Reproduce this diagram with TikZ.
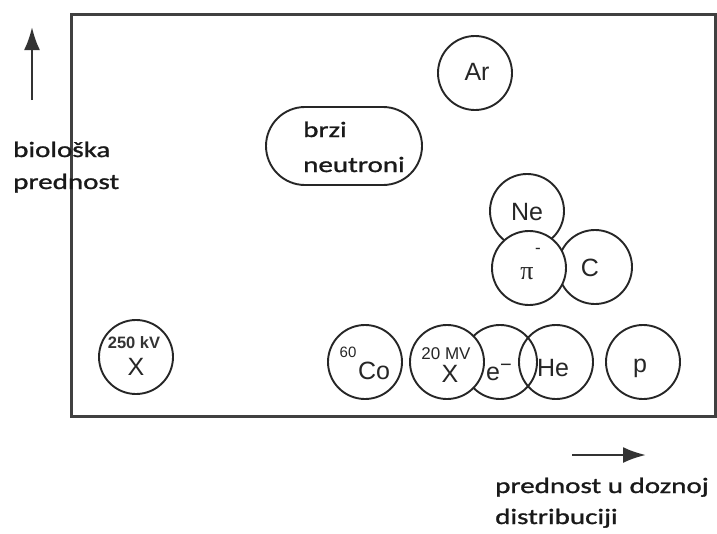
\documentclass[tikz,border=0pt]{standalone}
\usepackage{fontspec}
\setmainfont{Liberation Sans}
\newfontfamily\calfont[FakeStretch=1.32,FakeBold=1.2]{Carlito}
\newfontfamily\greekfont{Liberation Serif}
\usetikzlibrary{arrows.meta}
\begin{document}
\begin{tikzpicture}[x=1pt,y=-1pt,
  ring/.style={circle,draw=black!85,line width=1.9pt,minimum size=74pt,inner sep=0pt},
  wring/.style={ring,fill=white},
  lbl/.style={font=\fontsize{25}{25}\selectfont,inner sep=0pt,text=black!85},
  smalltxt/.style={font=\fontsize{17}{17}\selectfont,inner sep=0pt,text=black!85},
  axtext/.style={font=\calfont\fontsize{22}{22}\selectfont,inner sep=0pt,anchor=base west,text=black!90},
  axarrow/.style={draw=black!80,line width=2.5pt,-{Latex[length=23pt,width=16pt]}}]
\useasboundingbox (0,0) rectangle (717,533);
% frame
\node[draw=black!75,line width=3pt,minimum width=644pt,minimum height=402pt,inner sep=0pt,anchor=north west] (frame) at (70,13) {};
% axes arrows
\coordinate (ua) at (32,100);
\coordinate (ub) at (32,27);
\draw[axarrow] (ua) -- (ub);
\coordinate (ra) at (572,455);
\coordinate (rb) at (646,455);
\draw[axarrow] (ra) -- (rb);
% axis captions
\node[axtext] (bio1) at (13,157) {biološka};
\node[axtext] (bio2) at (13,189) {prednost};
\node[axtext] (pd1) at (495,493) {prednost u doznoj};
\node[axtext] (pd2) at (495,524) {distribuciji};
% fast neutrons
\node[draw=black!85,line width=1.9pt,minimum width=156pt,minimum height=78pt,rounded corners=39pt,inner sep=0pt] (bn) at (344,146) {};
\node[axtext] (bn1) at (303,137) {brzi};
\node[axtext] (bn2) at (303,172) {neutroni};
% Ar
\node[ring] (ar) at (475,73) {};
\node[lbl] (arl) at (477,72) {Ar};
% Ne, C, pi
\node[ring] (ne) at (527,211) {};
\node[ring] (c) at (595,267) {};
\node[wring] (pi) at (529,268) {};
\node[lbl] (nel) at (527,212) {Ne};
\node[lbl] (cl) at (590,268) {C};
\node[inner sep=0pt,font=\greekfont\fontsize{26}{26}\selectfont,text=black!85] (pil) at (527,274) {π};
\node[smalltxt] (pim) at (538,251) {-};
% 250 kV
\node[ring] (kv) at (136,357) {};
\node[inner sep=0pt,font=\bfseries\fontsize{16.5}{16.5}\selectfont,text=black!80] (kvl) at (134,343) {250 kV};
\node[lbl] (kvx) at (136,367) {X};
% bottom row
\node[ring] (he) at (556,362) {};
\node[ring] (p) at (643,362) {};
\node[ring] (e) at (500,362) {};
\node[wring] (co) at (365,362) {};
\node[wring] (mv) at (447,362) {};
\node[inner sep=0pt,font=\fontsize{15}{15}\selectfont,text=black!85] (col1) at (348,352) {60};
\node[lbl] (col2) at (374,371) {Co};
\node[smalltxt] (mvl) at (446,354) {20 MV};
\node[lbl] (mvx) at (450,374) {X};
\node[lbl,anchor=base west] (el) at (486,380) {e\raisebox{9pt}{\fontsize{20}{20}\selectfont −}};
\node[lbl] (hel) at (553,368) {He};
\node[lbl] (pl) at (640,368) {p};
\end{tikzpicture}
\end{document}
